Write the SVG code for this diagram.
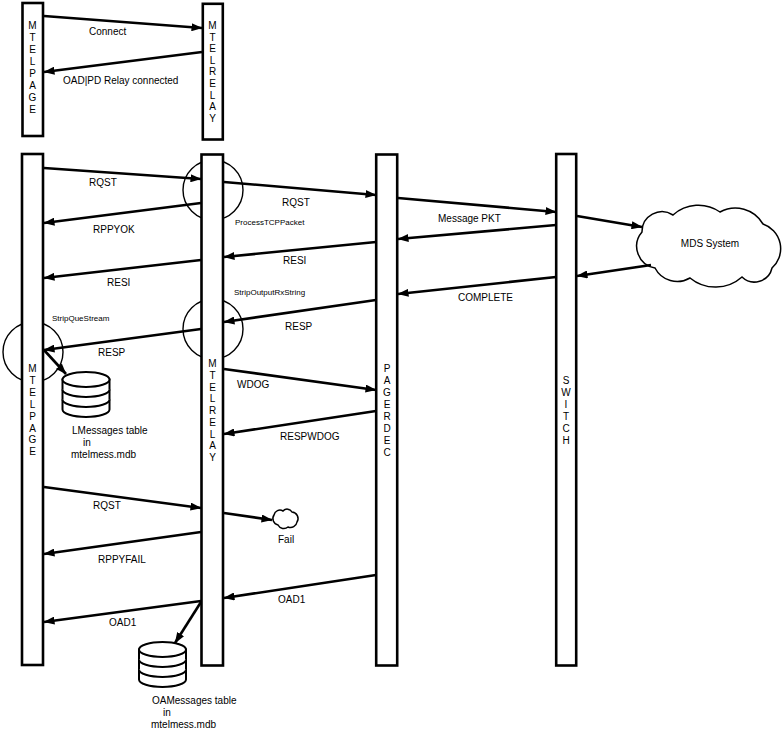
<svg xmlns="http://www.w3.org/2000/svg" xmlns:xlink="http://www.w3.org/1999/xlink" width="782" height="730" viewBox="0 0 782 730">
<style>
.life{fill:#fff;stroke:#000;stroke-width:2.6}
.v{font-family:"Liberation Sans",Arial,sans-serif;font-size:10px;fill:#000;text-anchor:middle}
.t{font-family:"Liberation Sans",Arial,sans-serif;font-size:10px;fill:#000}
.s{font-family:"Liberation Sans",Arial,sans-serif;font-size:8px;fill:#000}
.ar{stroke:#000;stroke-width:2.6;fill:none;marker-end:url(#ah)}
.ring{fill:none;stroke:#000;stroke-width:1.4}
.cloud{fill:#fff;stroke:#000;stroke-width:1.5}
.db{fill:#fff;stroke:#000;stroke-width:2}
</style>
<defs>
<marker id="ah" viewBox="0 0 11 8" refX="10.5" refY="4" markerWidth="11" markerHeight="8" markerUnits="userSpaceOnUse" orient="auto">
<path d="M0,0 L11,4 L0,8 z" fill="#000"/>
</marker>
<g id="dbshape">
<path class="db" d="M0,7.5 L0,37.5 A23.5,7.5 0 0 0 47,37.5 L47,7.5 Z"/>
<ellipse class="db" cx="23.5" cy="7.5" rx="23.5" ry="7.5"/>
<path class="db" d="M0,17.5 A23.5,7.5 0 0 0 47,17.5 M0,27.5 A23.5,7.5 0 0 0 47,27.5"/>
</g>
</defs>
<rect width="782" height="730" fill="#fff"/>

<g id="activations">
<circle class="ring" cx="213" cy="190" r="30"/>
<circle class="ring" cx="213" cy="329" r="30"/>
<circle class="ring" cx="33" cy="352" r="30"/>
</g>

<g id="mtelpage-top">
<rect class="life" x="22.5" y="3" width="20.5" height="133"/>
<text class="v" x="32.5" y="29">M</text><text class="v" x="32.5" y="41">T</text><text class="v" x="32.5" y="53">E</text><text class="v" x="32.5" y="65">L</text><text class="v" x="32.5" y="77">P</text><text class="v" x="32.5" y="89">A</text><text class="v" x="32.5" y="101">G</text><text class="v" x="32.5" y="113">E</text>
</g>
<g id="mtelrelay-top">
<rect class="life" x="202.8" y="3.8" width="20" height="135.7"/>
<text class="v" x="212.5" y="29">M</text><text class="v" x="212.5" y="40.6">T</text><text class="v" x="212.5" y="52.2">E</text><text class="v" x="212.5" y="63.8">L</text><text class="v" x="212.5" y="75.4">R</text><text class="v" x="212.5" y="87">E</text><text class="v" x="212.5" y="98.6">L</text><text class="v" x="212.5" y="110.2">A</text><text class="v" x="212.5" y="121.8">Y</text>
</g>
<g id="mtelpage">
<rect class="life" x="22" y="154" width="21" height="511"/>
<text class="v" x="32.5" y="372">M</text><text class="v" x="32.5" y="383.9">T</text><text class="v" x="32.5" y="395.8">E</text><text class="v" x="32.5" y="407.7">L</text><text class="v" x="32.5" y="419.6">P</text><text class="v" x="32.5" y="431.5">A</text><text class="v" x="32.5" y="443.4">G</text><text class="v" x="32.5" y="455.3">E</text>
</g>
<g id="mtelrelay">
<rect class="life" x="201.5" y="154.5" width="21.5" height="511"/>
<text class="v" x="212.5" y="367">M</text><text class="v" x="212.5" y="378.75">T</text><text class="v" x="212.5" y="390.5">E</text><text class="v" x="212.5" y="402.25">L</text><text class="v" x="212.5" y="414">R</text><text class="v" x="212.5" y="425.75">E</text><text class="v" x="212.5" y="437.5">L</text><text class="v" x="212.5" y="449.25">A</text><text class="v" x="212.5" y="461">Y</text>
</g>
<g id="pagerdec">
<rect class="life" x="376.2" y="154.5" width="21" height="511"/>
<text class="v" x="387" y="372">P</text><text class="v" x="387" y="384">A</text><text class="v" x="387" y="396">G</text><text class="v" x="387" y="408">E</text><text class="v" x="387" y="420">R</text><text class="v" x="387" y="432">D</text><text class="v" x="387" y="444">E</text><text class="v" x="387" y="456">C</text>
</g>
<g id="switch">
<rect class="life" x="556.2" y="154" width="20" height="511.5"/>
<text class="v" x="566" y="384">S</text><text class="v" x="566" y="395.9">W</text><text class="v" x="566" y="407.8">I</text><text class="v" x="566" y="419.7">T</text><text class="v" x="566" y="431.6">C</text><text class="v" x="566" y="443.5">H</text>
</g>
<g id="mds-system">
<path class="cloud" d="M642,232 A20,20 0 0 1 673,215 A38,38 0 0 1 720,212 A32,32 0 0 1 763,224 A26,26 0 0 1 772,268 A18,18 0 0 1 742,277 A40,40 0 0 1 690,278 A25,25 0 0 1 655,268 A22,22 0 0 1 642,232 Z"/>
<text class="v" x="710" y="247">MDS System</text>
</g>
<g id="fail">
<path class="cloud" d="M274,515 A6,6 0 0 1 283,511 A5.5,5.5 0 0 1 292,512 A6.5,6.5 0 0 1 297,522 A6.5,6.5 0 0 1 288,527 A6.5,6.5 0 0 1 278,525 A6.5,6.5 0 0 1 274,515 Z"/>
<text class="t" x="278" y="543">Fail</text>
</g>
<g id="lmessages">
<use xlink:href="#dbshape" href="#dbshape" x="62.5" y="372"/>
<text class="t" x="72" y="434">LMessages table</text>
<text class="t" x="83" y="446">in</text>
<text class="t" x="71" y="458">mtelmess.mdb</text>
</g>
<g id="oamessages">
<use xlink:href="#dbshape" href="#dbshape" x="139" y="642"/>
<text class="t" x="152" y="704">OAMessages table</text>
<text class="t" x="163" y="716">in</text>
<text class="t" x="151" y="728">mtelmess.mdb</text>
</g>

<g id="connectors">
<line class="ar" x1="44" y1="16" x2="202" y2="28"/>
<line class="ar" x1="202" y1="52" x2="44" y2="72"/>
<line class="ar" x1="44" y1="168" x2="201" y2="179"/>
<line class="ar" x1="224" y1="182" x2="376" y2="195"/>
<line class="ar" x1="201" y1="203" x2="44" y2="223"/>
<line class="ar" x1="398" y1="198" x2="556" y2="212"/>
<line class="ar" x1="556" y1="225" x2="398" y2="239"/>
<line class="ar" x1="577" y1="216" x2="642" y2="227"/>
<line class="ar" x1="651" y1="265" x2="577" y2="276"/>
<line class="ar" x1="376" y1="242" x2="224" y2="257"/>
<line class="ar" x1="201" y1="260" x2="44" y2="278"/>
<line class="ar" x1="556" y1="277" x2="398" y2="294"/>
<line class="ar" x1="376" y1="300" x2="224" y2="322"/>
<line class="ar" x1="201" y1="329" x2="44" y2="350"/>
<line class="ar" x1="44" y1="350" x2="66" y2="374"/>
<line class="ar" x1="224" y1="369" x2="376" y2="390"/>
<line class="ar" x1="376" y1="411" x2="224" y2="434"/>
<line class="ar" x1="44" y1="487" x2="201" y2="508"/>
<line class="ar" x1="224" y1="513" x2="272" y2="520"/>
<line class="ar" x1="201" y1="532" x2="44" y2="554"/>
<line class="ar" x1="376" y1="575" x2="224" y2="598"/>
<line class="ar" x1="201" y1="601" x2="44" y2="622"/>
<line class="ar" x1="201" y1="602" x2="175" y2="643"/>
</g>

<g id="labels">
<text class="t" x="89" y="35">Connect</text>
<text class="t" x="63" y="84">OAD|PD Relay connected</text>
<text class="t" x="89" y="186">RQST</text>
<text class="t" x="282" y="206">RQST</text>
<text class="t" x="93" y="233">RPPYOK</text>
<text class="s" x="235" y="225">ProcessTCPPacket</text>
<text class="t" x="438" y="222">Message PKT</text>
<text class="t" x="283" y="264">RESI</text>
<text class="t" x="107" y="286">RESI</text>
<text class="t" x="458" y="301">COMPLETE</text>
<text class="s" x="234" y="295">StripOutputRxString</text>
<text class="t" x="285" y="330">RESP</text>
<text class="s" x="52" y="321">StripQueStream</text>
<text class="t" x="98" y="356">RESP</text>
<text class="t" x="237" y="388">WDOG</text>
<text class="t" x="280" y="440">RESPWDOG</text>
<text class="t" x="93" y="509">RQST</text>
<text class="t" x="98" y="563">RPPYFAIL</text>
<text class="t" x="278" y="603">OAD1</text>
<text class="t" x="109" y="626">OAD1</text>
</g>
</svg>
